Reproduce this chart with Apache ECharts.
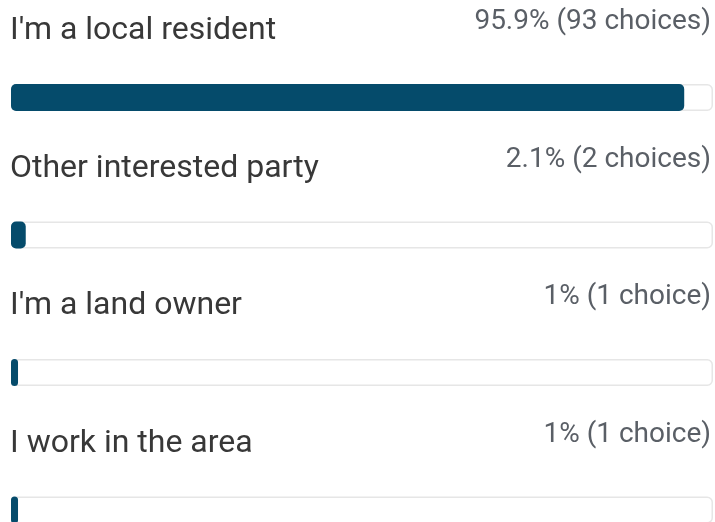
<!DOCTYPE html>
<html>
<head>
<meta charset="utf-8">
<script src="https://cdn.jsdelivr.net/npm/echarts@6/dist/echarts.min.js"></script>
<style>
  html, body { margin: 0; padding: 0; background: #fff; }
  #chart { width: 715px; height: 522px; }
</style>
</head>
<body>
<div id="chart"></div>
<script>
const categories = ["I'm a local resident", "Other interested party", "I'm a land owner", "I work in the area"];
const percents = [95.9, 2.1, 1, 1];
const choices = [93, 2, 1, 1];

const chart = echarts.init(document.getElementById("chart"));

const track = categories.map(() => 100);

chart.setOption({
    animation: false,
    grid: {
        left: 11,
        top: 97.5,
        width: 702,
        height: 412.5,
    },
    xAxis: {
        type: "value",
        min: 0,
        max: 100,
        show: false,
    },
    yAxis: {
        type: "category",
        data: categories,
        inverse: true,
        boundaryGap: false,
        show: false,
    },
    series: [
        {
            // background track with the category name above it
            type: "bar",
            data: track,
            barWidth: 27,
            barGap: "-100%",
            silent: true,
            itemStyle: {
                color: "#ffffff",
                borderColor: "#e6e6e6",
                borderWidth: 1.5,
                borderRadius: 5,
            },
            label: {
                show: true,
                position: [-1, -53],
                verticalAlign: "middle",
                align: "left",
                formatter: (p) => p.name,
                fontFamily: "Roboto",
                fontSize: 32,
                color: "#383838",
            },
            z: 1,
        },
        {
            type: "bar",
            data: percents,
            barWidth: 27,
            barGap: "-100%",
            silent: true,
            itemStyle: {
                color: "#054b6b",
                borderRadius: 5,
            },
            z: 2,
        },
        {
            // invisible full-width bar carrying the percentage text
            type: "bar",
            data: track,
            barWidth: 27,
            barGap: "-100%",
            silent: true,
            itemStyle: { color: "transparent" },
            label: {
                show: true,
                position: ["100%", -62],
                verticalAlign: "middle",
                align: "right",
                formatter: (p) => {
                    const i = p.dataIndex;
                    const n = choices[i];
                    return percents[i] + "% (" + n + (n === 1 ? " choice)" : " choices)");
                },
                fontFamily: "Roboto",
                fontSize: 28,
                color: "#5a5f66",
                offset: [-2, 0],
            },
            z: 3,
        },
    ],
});
</script>
</body>
</html>
